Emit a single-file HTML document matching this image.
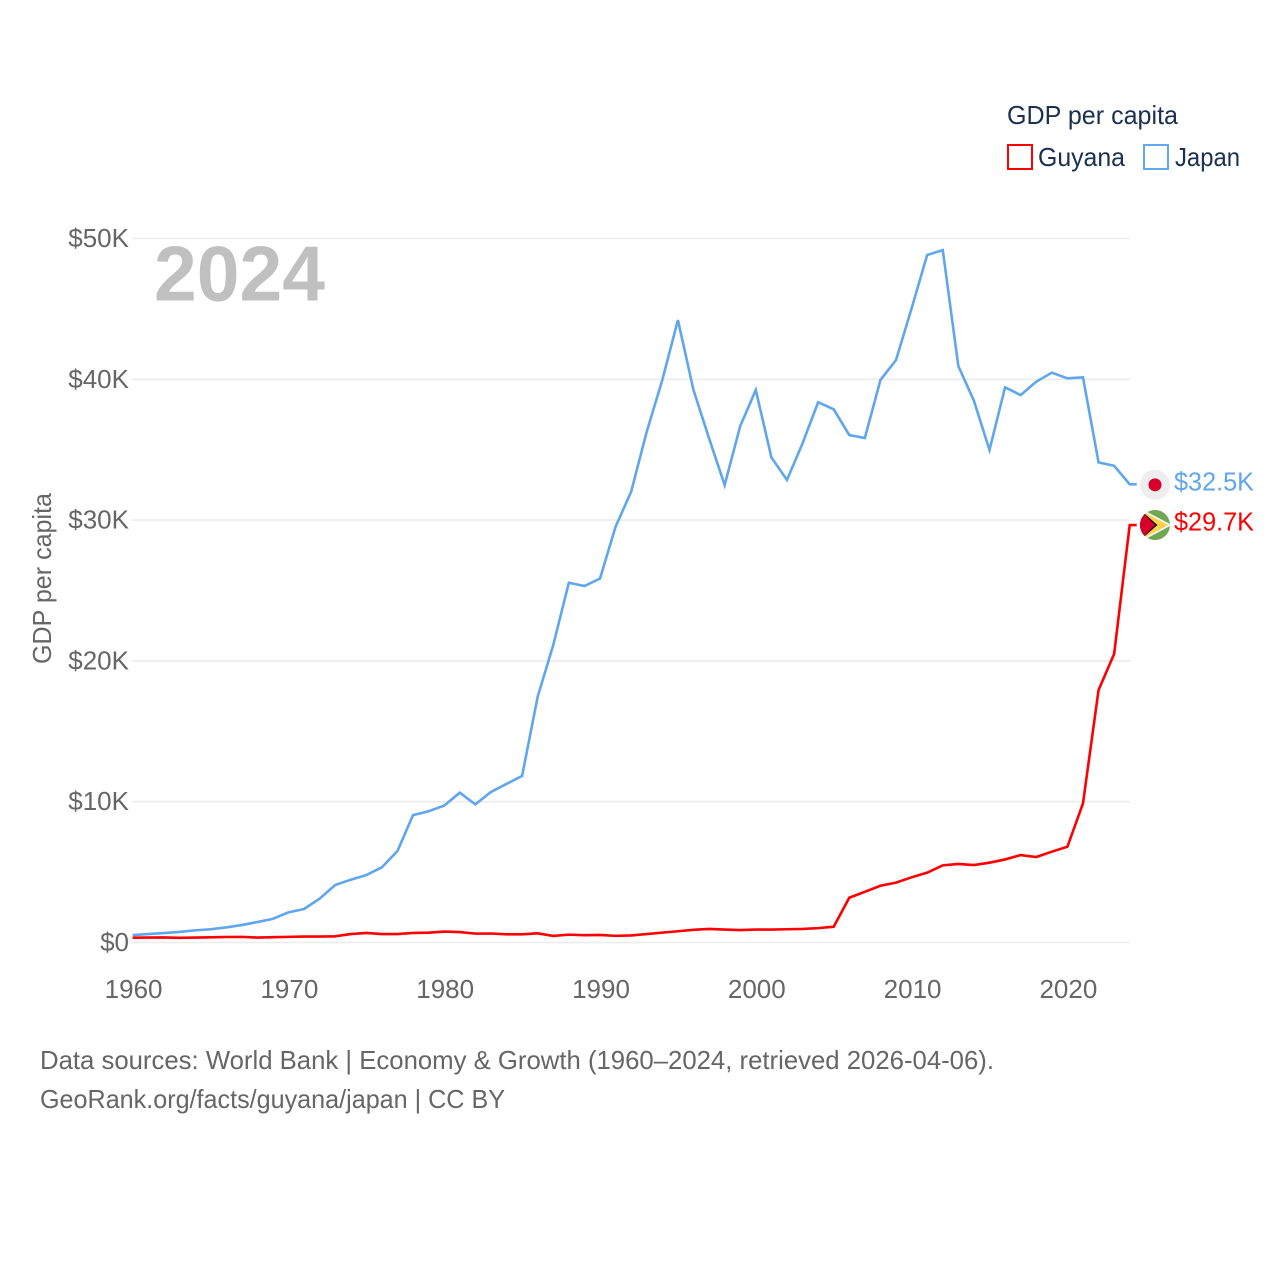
<!DOCTYPE html>
<html lang="en">
<head>
<meta charset="utf-8">
<title>GDP per capita: Guyana and Japan</title>
<style>
html,body{margin:0;padding:0;background:#fff;width:1280px;height:1280px;overflow:hidden}
svg{display:block}
text{font-family:"Liberation Sans",sans-serif;font-size:26px}
</style>
</head>
<body>
<svg id="chart" width="1280" height="1280" viewBox="0 0 1280 1280" xmlns="http://www.w3.org/2000/svg">
  <defs>
    <clipPath id="guyana-clip"><circle id="guyana-clip-circle" r="15" cx="0" cy="0"/></clipPath>
  </defs>
  <g id="grid"></g>
  <g id="yticks"></g>
  <g id="xticks"></g>

  <text x="154" y="300.5" fill="#c0c0c0" font-weight="700" style="font-size:78px" textLength="171" lengthAdjust="spacingAndGlyphs">2024</text>

  <text transform="translate(51,664) rotate(-90)" fill="#666666" textLength="171" lengthAdjust="spacingAndGlyphs">GDP per capita</text>

  <g id="series"></g>
  <g id="endpoints"></g>

  <g>
    <text x="1007" y="124" fill="#1a3050" textLength="171" lengthAdjust="spacingAndGlyphs">GDP per capita</text>
    <g>
      <rect x="1008" y="145" width="24" height="24" fill="none" stroke="#ff0000" stroke-width="2"/>
      <text x="1038" y="166" fill="#1a3050" textLength="87" lengthAdjust="spacingAndGlyphs">Guyana</text>
    </g>
    <g>
      <rect x="1144" y="145" width="24" height="24" fill="none" stroke="#62a8ee" stroke-width="2"/>
      <text x="1175" y="166" fill="#1a3050" textLength="65" lengthAdjust="spacingAndGlyphs">Japan</text>
    </g>
  </g>

  <g>
    <text x="40" y="1069" fill="#666666" textLength="954" lengthAdjust="spacingAndGlyphs">Data sources: World Bank | Economy &amp; Growth (1960–2024, retrieved 2026-04-06).</text>
    <text x="40" y="1108" fill="#666666" textLength="465" lengthAdjust="spacingAndGlyphs">GeoRank.org/facts/guyana/japan | CC BY</text>
  </g>
</svg>
<script>
const firstYear = 1960;
const yTickValues = [0, 10, 20, 30, 40, 50];
const yTickLabels = ["$0", "$10K", "$20K", "$30K", "$40K", "$50K"];
const xTickValues = [1960, 1970, 1980, 1990, 2000, 2010, 2020];
const xTickLabels = ["1960", "1970", "1980", "1990", "2000", "2010", "2020"];
// GDP per capita in thousands of US dollars, 1960 to 2024
const japanValues = [
  0.53, 0.60, 0.67, 0.75, 0.86, 0.94, 1.07, 1.24, 1.45, 1.68,
  2.14, 2.38, 3.11, 4.08, 4.46, 4.79, 5.34, 6.50, 9.05, 9.32,
  9.72, 10.64, 9.81, 10.69, 11.26, 11.83, 17.46, 21.13, 25.55, 25.32,
  25.85, 29.53, 32.02, 36.28, 39.95, 44.21, 39.24, 35.81, 32.49, 36.68,
  39.24, 34.46, 32.85, 35.45, 38.37, 37.87, 36.04, 35.83, 39.95, 41.37,
  45.04, 48.83, 49.18, 40.94, 38.48, 34.98, 39.43, 38.88, 39.83, 40.47,
  40.07, 40.14, 34.10, 33.86, 32.54
];
const guyanaValues = [
  0.34, 0.35, 0.36, 0.33, 0.35, 0.37, 0.39, 0.40, 0.35, 0.38,
  0.40, 0.42, 0.42, 0.44, 0.60, 0.68, 0.60, 0.60, 0.68, 0.70,
  0.78, 0.74, 0.63, 0.64, 0.58, 0.58, 0.65, 0.47, 0.56, 0.52,
  0.54, 0.47, 0.50, 0.60, 0.70, 0.80, 0.90, 0.96, 0.92, 0.88,
  0.92, 0.92, 0.94, 0.96, 1.02, 1.12, 3.18, 3.60, 4.03, 4.25,
  4.63, 4.96, 5.48, 5.58, 5.50, 5.67, 5.90, 6.21, 6.07, 6.45,
  6.80, 9.88, 17.93, 20.50, 29.65
];
const japanEndLabel = "$32.5K";
const guyanaEndLabel = "$29.7K";

const NS = "http://www.w3.org/2000/svg";
const xScale = year => 132.6 + (year - 1960) * 15.58;
const yScale = value => 942.5 - value * 14.08;

function make(tag, attrs, parent) {
  const el = document.createElementNS(NS, tag);
  for (const k in attrs) el.setAttribute(k, attrs[k]);
  parent.appendChild(el);
  return el;
}

const gridG = document.getElementById("grid");
const yG = document.getElementById("yticks");
const xG = document.getElementById("xticks");
const seriesG = document.getElementById("series");
const endG = document.getElementById("endpoints");

yTickValues.forEach((v, i) => {
  const line = make("line", {x1: 132, x2: 1130, y1: yScale(v), y2: yScale(v), stroke: "#ececec", "stroke-width": 1.6}, gridG);
  
  
  const t = make("text", {x: 129, y: yScale(v) + 8.5, "text-anchor": "end", fill: "#666666"}, yG);
  
  
  t.textContent = yTickLabels[i];
});

xTickValues.forEach((v, i) => {
  const t = make("text", {x: xScale(v) + 1, y: 998, "text-anchor": "middle", fill: "#666666"}, xG);
  
  
  t.textContent = xTickLabels[i];
});

function seriesPath(values) {
  const pts = values.map((v, i) => xScale(firstYear + i).toFixed(2) + "," + yScale(v).toFixed(2));
  const lastY = yScale(values[values.length - 1]).toFixed(2);
  const lastX = xScale(firstYear + values.length - 1);
  pts.push((lastX + 7).toFixed(2) + "," + lastY);
  return pts.join(" ");
}

const japanLine = make("polyline", {points: seriesPath(japanValues), fill: "none", stroke: "#5fa6ee", "stroke-width": 2.6, "stroke-linejoin": "miter"}, seriesG);



const guyanaLine = make("polyline", {points: seriesPath(guyanaValues), fill: "none", stroke: "#ff0000", "stroke-width": 2.6, "stroke-linejoin": "miter"}, seriesG);



const flagX = 1155;
const jY = yScale(japanValues[japanValues.length - 1]);
const gY = yScale(guyanaValues[guyanaValues.length - 1]);

const jFlag = make("g", {transform: "translate(" + flagX + "," + (jY + 0.5) + ")"}, endG);


make("circle", {r: 15, fill: "#eeeeee"}, jFlag);
make("circle", {r: 6.5, fill: "#d8002a"}, jFlag);

const gFlag = make("g", {transform: "translate(" + flagX + "," + gY + ")", "clip-path": "url(#guyana-clip)"}, endG);


make("rect", {x: -15, y: -15, width: 30, height: 30, fill: "#6fa84f"}, gFlag);
make("polygon", {points: "-15,-17 17,0 -15,17", fill: "#f2f2f2"}, gFlag);
make("polygon", {points: "-15,-15 13,0 -15,15", fill: "#fdd147"}, gFlag);
make("polygon", {points: "-17,-17 2.5,0 -17,17", fill: "#111111"}, gFlag);
make("polygon", {points: "-16,-16 0,0 -16,16", fill: "#d8002a"}, gFlag);

const jLabel = make("text", {x: 1174, y: jY + 6, fill: "#5fa6ee", textLength: 80, lengthAdjust: "spacingAndGlyphs"}, endG);


jLabel.textContent = japanEndLabel;

const gLabel = make("text", {x: 1174, y: gY + 5.5, fill: "#ff0000", textLength: 80, lengthAdjust: "spacingAndGlyphs"}, endG);


gLabel.textContent = guyanaEndLabel;
</script>
</body>
</html>
